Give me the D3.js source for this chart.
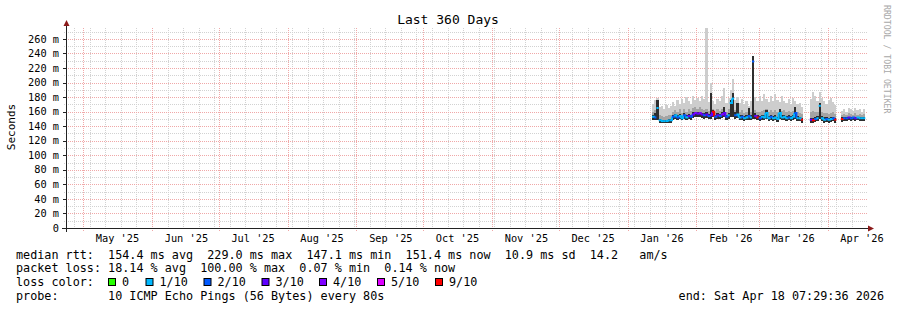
<!DOCTYPE html>
<html><head><meta charset="utf-8">
<script src="https://cdn.jsdelivr.net/npm/d3@7"></script>
<style>
body{margin:0;background:#fff}
svg text{font-family:"DejaVu Sans Mono",monospace;fill:#000}
</style>
</head><body>
<svg id="chart" width="897" height="310"></svg>
<script>
// ---------- data ----------
const rangeStart = "2025-04-23 07:29:36";
const rangeEnd = "2026-04-18 07:29:36";
const dates = [
"2026-01-12","2026-01-13","2026-01-14","2026-01-15","2026-01-16","2026-01-17","2026-01-18","2026-01-19","2026-01-20","2026-01-21",
"2026-01-22","2026-01-23","2026-01-24","2026-01-25","2026-01-26","2026-01-27","2026-01-28","2026-01-29","2026-01-30","2026-01-31",
"2026-02-01","2026-02-02","2026-02-03","2026-02-04","2026-02-05","2026-02-06","2026-02-07","2026-02-08","2026-02-09","2026-02-10",
"2026-02-11","2026-02-12","2026-02-13","2026-02-14","2026-02-15","2026-02-16","2026-02-17","2026-02-18","2026-02-19","2026-02-20",
"2026-02-21","2026-02-22","2026-02-23","2026-02-24","2026-02-25","2026-02-26","2026-02-27","2026-02-28","2026-03-01","2026-03-02",
"2026-03-03","2026-03-04","2026-03-05","2026-03-06","2026-03-07","2026-03-08","2026-03-09","2026-03-10","2026-03-11","2026-03-12",
"2026-03-13","2026-03-14","2026-03-15","2026-03-16","2026-03-17","2026-03-18","2026-03-19","2026-03-20","2026-03-21","2026-03-22",
"2026-03-23","2026-03-24","2026-03-25","2026-03-26","2026-03-27","2026-03-28","2026-03-29","2026-03-30","2026-03-31","2026-04-01",
"2026-04-02","2026-04-03","2026-04-04","2026-04-05","2026-04-06","2026-04-07","2026-04-08","2026-04-09","2026-04-10","2026-04-11",
"2026-04-12","2026-04-13","2026-04-14","2026-04-15","2026-04-16","2026-04-17"];
// median rtt (ms)
const median = [
153,152,165,148,147,147,147,148,148,153, 155,152,154,151,155,152,154,153,156,158,
157,158,156,155,156,154,155,160,153,155, 154,156,158,153,155,172,178,155,156,152,
153,151,152,154,152,229,154,152,151,153, 152,158,151,153,151,152,150,158,152,153,
151,152,151,153,158,151,151,149,null,null, null,149,148,150,151,168,151,149,150,149,
150,151,149,null,null,150,151,151,152,151, 152,151,152,151,151,151];
// lost pings out of 10
const loss = [
1,2,1,1,1,1,1,1,1,2, 1,2,1,1,2,1,3,2,3,4,
3,4,3,2,3,2,3,9,2,3, 2,4,3,2,1,1,1,2,1,1,
2,1,1,2,1,2,3,9,2,1, 1,1,1,2,1,1,1,1,1,1,
1,2,1,1,2,1,1,9,null,null, null,3,9,2,1,1,1,1,2,1,
1,2,9,null,null,9,2,2,3,2, 2,3,1,1,1,1];
// smoke: lowest ping and upper edges of the grey layers (ms)
const smokeLow = [
149,148,149,145,144,144,144,145,145,149, 150,148,150,148,150,148,150,149,151,153,
152,153,151,150,151,150,150,152,149,150, 150,151,152,149,150,152,152,150,151,148,
149,147,148,149,148,150,150,148,147,149, 148,150,147,149,147,148,146,150,148,149,
147,148,147,149,150,147,147,145,null,null, null,145,144,146,147,150,147,145,146,145,
146,147,145,null,null,146,147,147,148,147, 148,147,148,147,147,147];
const smokeDark = [
156,158,176,150,149,149,149,150,150,156, 157,155,157,154,158,155,157,156,159,160,
159,160,158,158,159,157,185,162,156,158, 157,160,166,156,158,176,185,160,172,155,
156,154,155,165,155,236,158,155,154,156, 155,162,154,156,154,155,153,163,155,156,
154,155,154,156,166,154,153,151,null,null, null,151,151,153,154,172,154,152,152,151,
152,153,151,null,null,152,152,152,153,152, 153,152,153,152,152,152];
const smokeMid = [
160,162,170,155,154,153,154,155,155,160, 162,159,163,158,164,160,163,161,165,166,
164,166,163,162,164,161,165,164,160,163, 161,164,166,160,163,174,184,162,165,160,
162,158,160,162,159,232,162,159,160,161, 162,164,159,162,160,162,159,164,161,162,
159,161,159,161,163,159,158,157,null,null, null,159,161,160,159,172,160,158,158,157,
158,159,157,null,null,155,157,156,158,157, 156,158,156,157,156,157];
const smokeHigh = [
170,176,179,166,168,163,169,165,168,173, 168,176,171,178,172,180,174,170,181,176,
179,174,181,177,280,173,200,175,170,177, 174,182,192,172,179,190,205,176,180,172,
178,170,175,168,174,237,180,174,181,175, 184,177,173,181,174,184,176,173,182,175,
172,177,170,179,175,170,172,166,null,null, null,177,187,181,175,187,179,174,170,176,
179,173,169,null,null,161,164,160,165,163, 161,165,162,164,160,163];

const yTicks = [0,20,40,60,80,100,120,140,160,180,200,220,240,260];
const yTickLabels = ["0","20 m","40 m","60 m","80 m","100 m","120 m","140 m","160 m","180 m","200 m","220 m","240 m","260 m"];
const lossLevels = [0,1,2,3,4,5,9];
const lossLabels = ["0","1/10","2/10","3/10","4/10","5/10","9/10"];
const lossColors = ["#26ff00","#00b8ff","#0059ff","#5e00ff","#7e00ff","#dd00ff","#ff0000"];
const legendLines = [
 "median rtt:  154.4 ms avg  229.0 ms max  147.1 ms min  151.4 ms now  10.9 ms sd  14.2   am/s",
 "packet loss: 18.14 % avg  100.00 % max  0.07 % min  0.14 % now",
 "loss color:",
 "probe:       10 ICMP Echo Pings (56 Bytes) every 80s"];
const endText = "end: Sat Apr 18 07:29:36 2026";
const titleText = "Last 360 Days";
const yTitle = "Seconds";
const sideText = "RRDTOOL / TOBI OETIKER";

// ---------- drawing ----------
const svg = d3.select("#chart");
svg.append("rect").attr("width",897).attr("height",310).attr("fill","#fff");
const L=66, R=866, T=28, B=228;
const pt = d3.timeParse("%Y-%m-%d %H:%M:%S");
const pd = d3.timeParse("%Y-%m-%d");
const x = d3.scaleTime().domain([pt(rangeStart), pt(rangeEnd)]).range([L,R]);
const y = d3.scaleLinear().domain([0,275]).range([B,T]);

// grid
const grid = svg.append("g").attr("shape-rendering","crispEdges");
const minorY = d3.range(10,275,20);
const minC = "#d2d2d2", majC = "#f0a8a8";
grid.selectAll(".hmin").data(minorY).join("line")
  .attr("x1",L-2).attr("x2",R+2).attr("y1",d=>Math.round(y(d))+0.5).attr("y2",d=>Math.round(y(d))+0.5)
  .attr("stroke",minC).attr("stroke-dasharray","1,1");
const weeks = d3.timeSunday.range(x.domain()[0], x.domain()[1]);
grid.selectAll(".vmin").data(weeks).join("line")
  .attr("x1",d=>Math.round(x(d))+0.5).attr("x2",d=>Math.round(x(d))+0.5).attr("y1",T).attr("y2",B+2)
  .attr("stroke",minC).attr("stroke-dasharray","1,1");
grid.selectAll(".hmaj").data(yTicks.slice(1)).join("line")
  .attr("x1",L-2).attr("x2",R+2).attr("y1",d=>Math.round(y(d))+0.5).attr("y2",d=>Math.round(y(d))+0.5)
  .attr("stroke",majC).attr("stroke-dasharray","1,1");
const months = d3.timeMonth.range(x.domain()[0], x.domain()[1]);
grid.selectAll(".vmaj").data(months).join("line")
  .attr("x1",d=>Math.round(x(d))+0.5).attr("x2",d=>Math.round(x(d))+0.5).attr("y1",T).attr("y2",B+3)
  .attr("stroke",majC).attr("stroke-dasharray","1,1");

// data
svg.append("clipPath").attr("id","plotclip").append("rect")
  .attr("x",L).attr("y",T).attr("width",R-L).attr("height",B-T);
const rows = dates.map((d,i)=>({t:pd(d), t1:d3.timeDay.offset(pd(d),1), m:median[i], l:loss[i],
  lo:smokeLow[i], dk:smokeDark[i], mid:smokeMid[i], hi:smokeHigh[i]})).filter(r=>r.m!==null);
const dg = svg.append("g").attr("clip-path","url(#plotclip)").attr("shape-rendering","crispEdges");
function band(key, color){
  dg.append("g").selectAll("rect").data(rows).join("rect")
    .attr("x",r=>x(r.t)).attr("width",r=>x(r.t1)-x(r.t))
    .attr("y",r=>y(r[key])).attr("height",r=>Math.max(0,y(r.lo)-y(r[key])))
    .attr("fill",color);
}
band("hi","#cdcdcd");
band("mid","#a4a4a4");
band("dk","#2e2e2e");
const colorOf = l => { let c = lossColors[0]; lossLevels.forEach((v,k)=>{ if(l>=v) c = lossColors[k]; }); return c; };
const seg = d3.line().x(p=>x(p[0])).y(p=>y(p[1]));
const mg = svg.append("g").attr("clip-path","url(#plotclip)");
dates.forEach((d,i)=>{
  if(median[i]===null) return;
  const t = pd(d), t1 = d3.timeDay.offset(t,1);
  const pts = [[t,median[i]],[t1,median[i]]];
  if(i+1<dates.length && median[i+1]!==null && Math.abs(median[i+1]-median[i])<=8) pts.push([t1,median[i+1]]);
  mg.append("path").attr("d",seg(pts)).attr("fill","none")
    .attr("stroke",colorOf(loss[i])).attr("stroke-width",2);
});

// axes
const ax = svg.append("g").attr("shape-rendering","crispEdges");
ax.append("line").attr("x1",L+0.5).attr("x2",L+0.5).attr("y1",B+4).attr("y2",T-4).attr("stroke","#222");
ax.append("line").attr("x1",L-4).attr("x2",R+4).attr("y1",B+0.5).attr("y2",B+0.5).attr("stroke","#222");
svg.append("path").attr("d",`M${L+0.5},${T-8} L${L+3.5},${T-2} L${L-2.5},${T-2} Z`).attr("fill","#8b1a1a");
svg.append("path").attr("d",`M${R+8},${B+0.5} L${R+2},${B+3.5} L${R+2},${B-2.5} Z`).attr("fill","#8b1a1a");
ax.selectAll(".yt").data(yTicks).join("line")
  .attr("x1",L-3).attr("x2",L).attr("y1",d=>Math.round(y(d))+0.5).attr("y2",d=>Math.round(y(d))+0.5).attr("stroke","#222");

// labels
svg.selectAll(".ylab").data(yTicks).join("text")
  .attr("x",59).attr("y",d=>y(d)+3.6).attr("text-anchor","end").attr("font-size","10.3px")
  .text((d,i)=>yTickLabels[i]);
const fmt = d3.timeFormat("%b '%y");
svg.selectAll(".xlab").data(months).join("text")
  .attr("x",d=>x(d3.timeHour.offset(d,372))).attr("y",241.5).attr("text-anchor","middle").attr("font-size","10.3px")
  .text(d=>fmt(d));
svg.append("text").attr("x",448).attr("y",24).attr("text-anchor","middle").attr("font-size","13px").text(titleText);
svg.append("text").attr("transform","translate(15,127) rotate(-90)").attr("text-anchor","middle").attr("font-size","11px").text(yTitle);
svg.append("text").attr("transform","translate(884,5) rotate(90)").attr("text-anchor","start").attr("font-size","8.2px")
  .style("fill","#a8a8a8").text(sideText);

// legend
const base = [258.5,272,286,299.5];
legendLines.forEach((s,i)=>{
  svg.append("text").attr("x",16).attr("y",base[i]).attr("font-size","11.78px").style("white-space","pre").text(s);
});
const boxX = [108,145.5,203.5,261.5,319,377,435];
lossLabels.forEach((lab,k)=>{
  svg.append("rect").attr("x",boxX[k]+0.5).attr("y",278.5).attr("width",7).attr("height",7)
    .attr("fill",lossColors[k]).attr("stroke","#000").attr("stroke-width",1);
  svg.append("text").attr("x",boxX[k]+14).attr("y",base[2]).attr("font-size","11.78px").text(lab);
});
svg.append("text").attr("x",884).attr("y",base[3]).attr("text-anchor","end").attr("font-size","11.78px").text(endText);
</script>
</body></html>
